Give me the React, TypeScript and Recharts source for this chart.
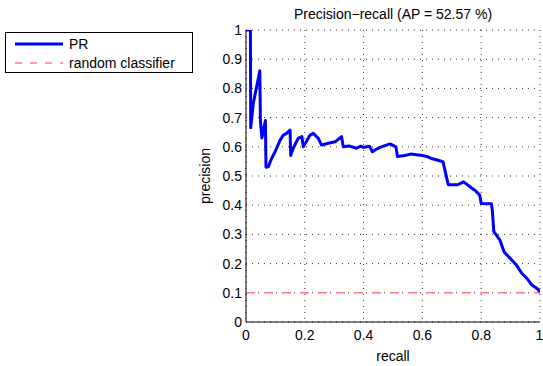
import { LineChart, Line, XAxis, YAxis, CartesianGrid, Label } from "recharts";

const recall = [
  0, 0.015, 0.016, 0.025, 0.047, 0.049, 0.054, 0.06, 0.066, 0.068, 0.076, 0.087, 0.099, 0.116, 0.127,
  0.138, 0.15, 0.152, 0.161, 0.178, 0.19, 0.195, 0.218, 0.229, 0.246, 0.257, 0.28, 0.303, 0.325, 0.331,
  0.35, 0.376, 0.39, 0.4, 0.42, 0.43, 0.44, 0.46, 0.49, 0.51, 0.515, 0.54, 0.56, 0.6, 0.615, 0.63, 0.65,
  0.67, 0.688, 0.72, 0.74, 0.76, 0.772, 0.78, 0.795, 0.8, 0.835, 0.838, 0.843, 0.85, 0.864, 0.878, 0.904,
  0.92, 0.938, 0.955, 0.972, 0.99, 1.0,
];
const precision = [
  1.0, 1.0, 0.665, 0.75, 0.86, 0.69, 0.63, 0.66, 0.69, 0.53, 0.532, 0.56, 0.583, 0.623, 0.64,
  0.646, 0.657, 0.57, 0.596, 0.63, 0.635, 0.6, 0.64, 0.646, 0.629, 0.606, 0.612, 0.617, 0.635, 0.6,
  0.603, 0.595, 0.602, 0.598, 0.602, 0.583, 0.59, 0.6, 0.61, 0.6, 0.567, 0.57, 0.575, 0.57, 0.567, 0.56, 0.555,
  0.549, 0.47, 0.47, 0.48, 0.465, 0.455, 0.45, 0.435, 0.406, 0.405, 0.38, 0.309, 0.3, 0.28, 0.24, 0.212,
  0.195, 0.167, 0.15, 0.127, 0.115, 0.104,
];
const randomLevel = 0.1;
const xTicks = [0, 0.2, 0.4, 0.6, 0.8, 1];
const yTicks = [0, 0.1, 0.2, 0.3, 0.4, 0.5, 0.6, 0.7, 0.8, 0.9, 1];

const prData = recall.map((r, i) => ({ recall: r, precision: precision[i] }));
const randomData = [
  { recall: 0, precision: randomLevel },
  { recall: 1, precision: randomLevel },
];

const font = '"Liberation Sans", Arial, Helvetica, sans-serif';

export default function App() {
  return (
    <div style={{ position: "absolute", left: 0, top: 0, width: 543, height: 366, background: "#fff", fontFamily: font }}>
      <LineChart width={543} height={366} margin={{ top: 30, right: 3, bottom: 0, left: 180 }}>
        <CartesianGrid stroke="#333" strokeDasharray="1 5" />
        <XAxis
          dataKey="recall"
          type="number"
          domain={[0, 1]}
          ticks={xTicks}
          height={44}
          tickLine={false}
          tickSize={0}
          tickMargin={8}
          axisLine={{ stroke: "#000" }}
          tick={{ fill: "#000", fontSize: 14, fontFamily: font }}
          allowDataOverflow
        >
          <Label value="recall" position="insideBottom" offset={5} style={{ fill: "#000", fontSize: 14, fontFamily: font }} />
        </XAxis>
        <YAxis
          type="number"
          domain={[0, 1]}
          ticks={yTicks}
          width={66}
          tickLine={false}
          tickSize={0}
          tickMargin={4}
          axisLine={{ stroke: "#000" }}
          tick={{ fill: "#000", fontSize: 14, fontFamily: font }}
          allowDataOverflow
        >
          <Label
            value="precision"
            angle={-90}
            position="insideLeft"
            offset={25}
            style={{ fill: "#000", fontSize: 14, fontFamily: font, textAnchor: "middle" }}
          />
        </YAxis>
        <Line
          data={randomData}
          dataKey="precision"
          type="linear"
          stroke="#ff7f7f"
          strokeWidth={1.5}
          strokeDasharray="9 9"
          dot={false}
          isAnimationActive={false}
        />
        <Line
          data={prData}
          dataKey="precision"
          type="linear"
          stroke="#0000ff"
          strokeWidth={3}
          strokeLinejoin="round"
          dot={false}
          isAnimationActive={false}
        />
      </LineChart>
      <div
        style={{ position: "absolute", left: 246, width: 294, top: 5, textAlign: "center", fontSize: 14, lineHeight: "18px", color: "#000" }}
      >
        Precision−recall (AP = 52.57 %)
      </div>
      <div
        style={{
          position: "absolute",
          left: 5,
          top: 32,
          width: 186,
          height: 39,
          border: "1px solid #000",
          background: "#fff",
          fontSize: 14,
          color: "#000",
        }}
      >
        <div style={{ position: "absolute", left: 9, top: 2, display: "flex", alignItems: "center", height: 18 }}>
          <svg width={48} height={6}>
            <line x1={0} y1={3} x2={48} y2={3} stroke="#0000ff" strokeWidth={3} />
          </svg>
          <span style={{ marginLeft: 6 }}>PR</span>
        </div>
        <div style={{ position: "absolute", left: 9, top: 21, display: "flex", alignItems: "center", height: 18 }}>
          <svg width={48} height={6}>
            <line x1={0} y1={3} x2={48} y2={3} stroke="#ff7f7f" strokeWidth={1.5} strokeDasharray="7 8" />
          </svg>
          <span style={{ marginLeft: 6 }}>random classifier</span>
        </div>
      </div>
    </div>
  );
}
